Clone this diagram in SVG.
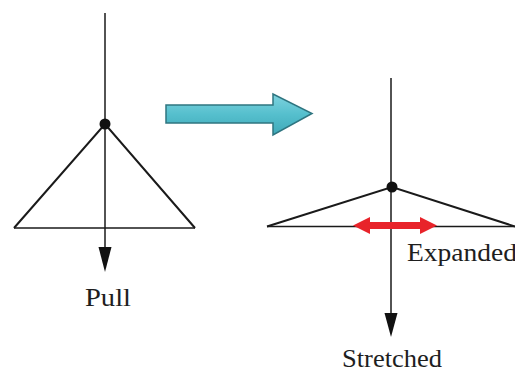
<svg xmlns="http://www.w3.org/2000/svg" width="515" height="374" viewBox="0 0 515 374">
<defs>
<style>
.ln{stroke:#1a1a1a;stroke-width:1.5;fill:none}
.sd{stroke:#1a1a1a;stroke-width:2;fill:none}
.lbl{font-family:"Liberation Serif","Times New Roman",serif;font-size:25px;fill:#1e1e1e}
</style>
<linearGradient id="cy" x1="0" y1="0" x2="0" y2="1">
<stop offset="0" stop-color="#7fd3df"/>
<stop offset="0.5" stop-color="#55bfcd"/>
<stop offset="1" stop-color="#3fa9b8"/>
</linearGradient>
</defs>
<rect width="515" height="374" fill="#fff"/>
<g id="left-figure">
<line class="ln" x1="105" y1="13" x2="105" y2="248"/>
<path d="M98.5,247 L111.5,247 L105,272 Z" fill="#111"/>
<polyline class="sd" points="14,228 105,124 195,228"/>
<line class="ln" x1="14" y1="228" x2="195" y2="228"/>
<circle cx="105" cy="124" r="5.5" fill="#111"/>
<text class="lbl" x="85" y="306" textLength="46" lengthAdjust="spacingAndGlyphs">Pull</text>
</g>
<g id="transition-arrow">
<path d="M166,105 L273,105 L273,94 L312,113.5 L273,135 L273,123 L166,123 Z" fill="url(#cy)" stroke="#2f7580" stroke-width="1.5" stroke-linejoin="miter"/>
</g>
<g id="right-figure">
<line class="ln" x1="391" y1="78" x2="391" y2="314"/>
<path d="M384.5,313 L397.5,313 L391,337 Z" fill="#111"/>
<line class="ln" x1="267" y1="226.5" x2="515" y2="226.5"/>
<polyline class="sd" points="267,226.5 392,187 515,226.5"/>
<circle cx="392" cy="187" r="5.5" fill="#111"/>
<path d="M353,225.5 L370,217 L370,222 L420,222 L420,217 L437,225.5 L420,234 L420,229 L370,229 L370,234 Z" fill="#e8232a"/>
<text class="lbl" x="407" y="261" textLength="110" lengthAdjust="spacingAndGlyphs">Expanded</text>
<text class="lbl" x="342" y="367" textLength="100" lengthAdjust="spacingAndGlyphs">Stretched</text>
</g>
</svg>
